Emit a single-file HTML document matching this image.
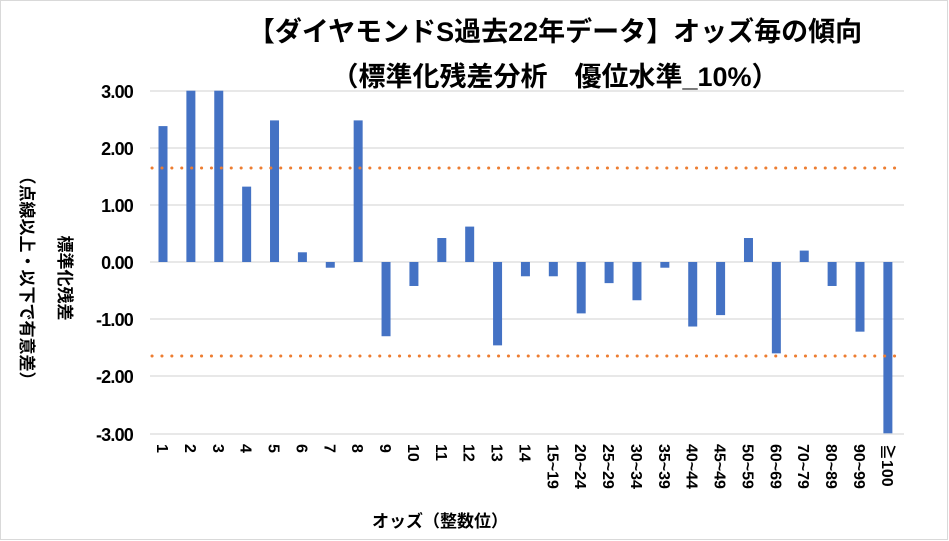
<!DOCTYPE html>
<html><head><meta charset="utf-8"><style>
html,body{margin:0;padding:0;background:#fff}
svg{display:block}
text{font-family:"Liberation Sans","Noto Sans CJK JP",sans-serif;font-weight:bold;fill:#000}
</style></head><body>
<svg width="949" height="541" viewBox="0 0 949 541" xmlns="http://www.w3.org/2000/svg">
<rect x="0.5" y="0.5" width="947" height="539" fill="#fff" stroke="#d9d9d9"/>
<text x="555" y="41" font-size="27" text-anchor="middle">【ダイヤモンドS過去22年データ】オッズ毎の傾向</text>
<text x="555" y="86" font-size="27" text-anchor="middle">（標準化残差分析　優位水準_10%）</text>
<g stroke="#d9d9d9" stroke-width="1.2">
<line x1="150" x2="904" y1="91" y2="91"/><line x1="150" x2="904" y1="148" y2="148"/>
<line x1="150" x2="904" y1="205" y2="205"/><line x1="150" x2="904" y1="262" y2="262"/>
<line x1="150" x2="904" y1="319" y2="319"/><line x1="150" x2="904" y1="376" y2="376"/>
<line x1="150" x2="904" y1="434" y2="434"/>
</g>
<g font-size="18" text-anchor="end" letter-spacing="-0.8">
<text x="133" y="98">3.00</text><text x="133" y="155">2.00</text><text x="133" y="212">1.00</text>
<text x="133" y="269">0.00</text><text x="133" y="326">-1.00</text><text x="133" y="383">-2.00</text>
<text x="133" y="441">-3.00</text>
</g>
<text transform="translate(59,278) rotate(90)" font-size="17" text-anchor="middle">標準化残差</text>
<text transform="translate(21,278) rotate(90)" font-size="17" text-anchor="middle">（点線以上・以下で有意差）</text>
<g id="bars" fill="#4472c4"></g>
<g id="labels" font-size="16"></g>
<line x1="152" x2="904" y1="168" y2="168" stroke="#ed7d31" stroke-width="3" stroke-dasharray="0.1 9.8" stroke-linecap="round"/>
<line x1="152" x2="904" y1="356" y2="356" stroke="#ed7d31" stroke-width="3" stroke-dasharray="0.1 9.8" stroke-linecap="round"/>
<text x="440" y="527" font-size="17" text-anchor="middle">オッズ（整数位）</text>
<script>
var v=[2.38,3,3,1.32,2.48,0.17,-0.1,2.48,-1.3,-0.42,0.42,0.62,-1.46,-0.25,-0.25,-0.9,-0.37,-0.67,-0.1,-1.13,-0.93,0.42,-1.6,0.2,-0.42,-1.22,-3];
var l=["1","2","3","4","5","6","7","8","9","10","11","12","13","14","15~19","20~24","25~29","30~34","35~39","40~44","45~49","50~59","60~69","70~79","80~89","90~99","≧100"];
var ns="http://www.w3.org/2000/svg",b=document.getElementById("bars"),g=document.getElementById("labels");
for(var i=0;i<27;i++){var cx=163+i*27.88;var r=document.createElementNS(ns,"rect");
var y0=262,y1=262-v[i]*57.1;r.setAttribute("x",cx-4.5);r.setAttribute("width",9);
r.setAttribute("y",Math.min(y0,y1));r.setAttribute("height",Math.abs(y1-y0));b.appendChild(r);
var t=document.createElementNS(ns,"text");t.setAttribute("transform","translate("+(cx-6)+",444) rotate(90)");
t.textContent=l[i];g.appendChild(t);}
</script>
</svg>
</body></html>
